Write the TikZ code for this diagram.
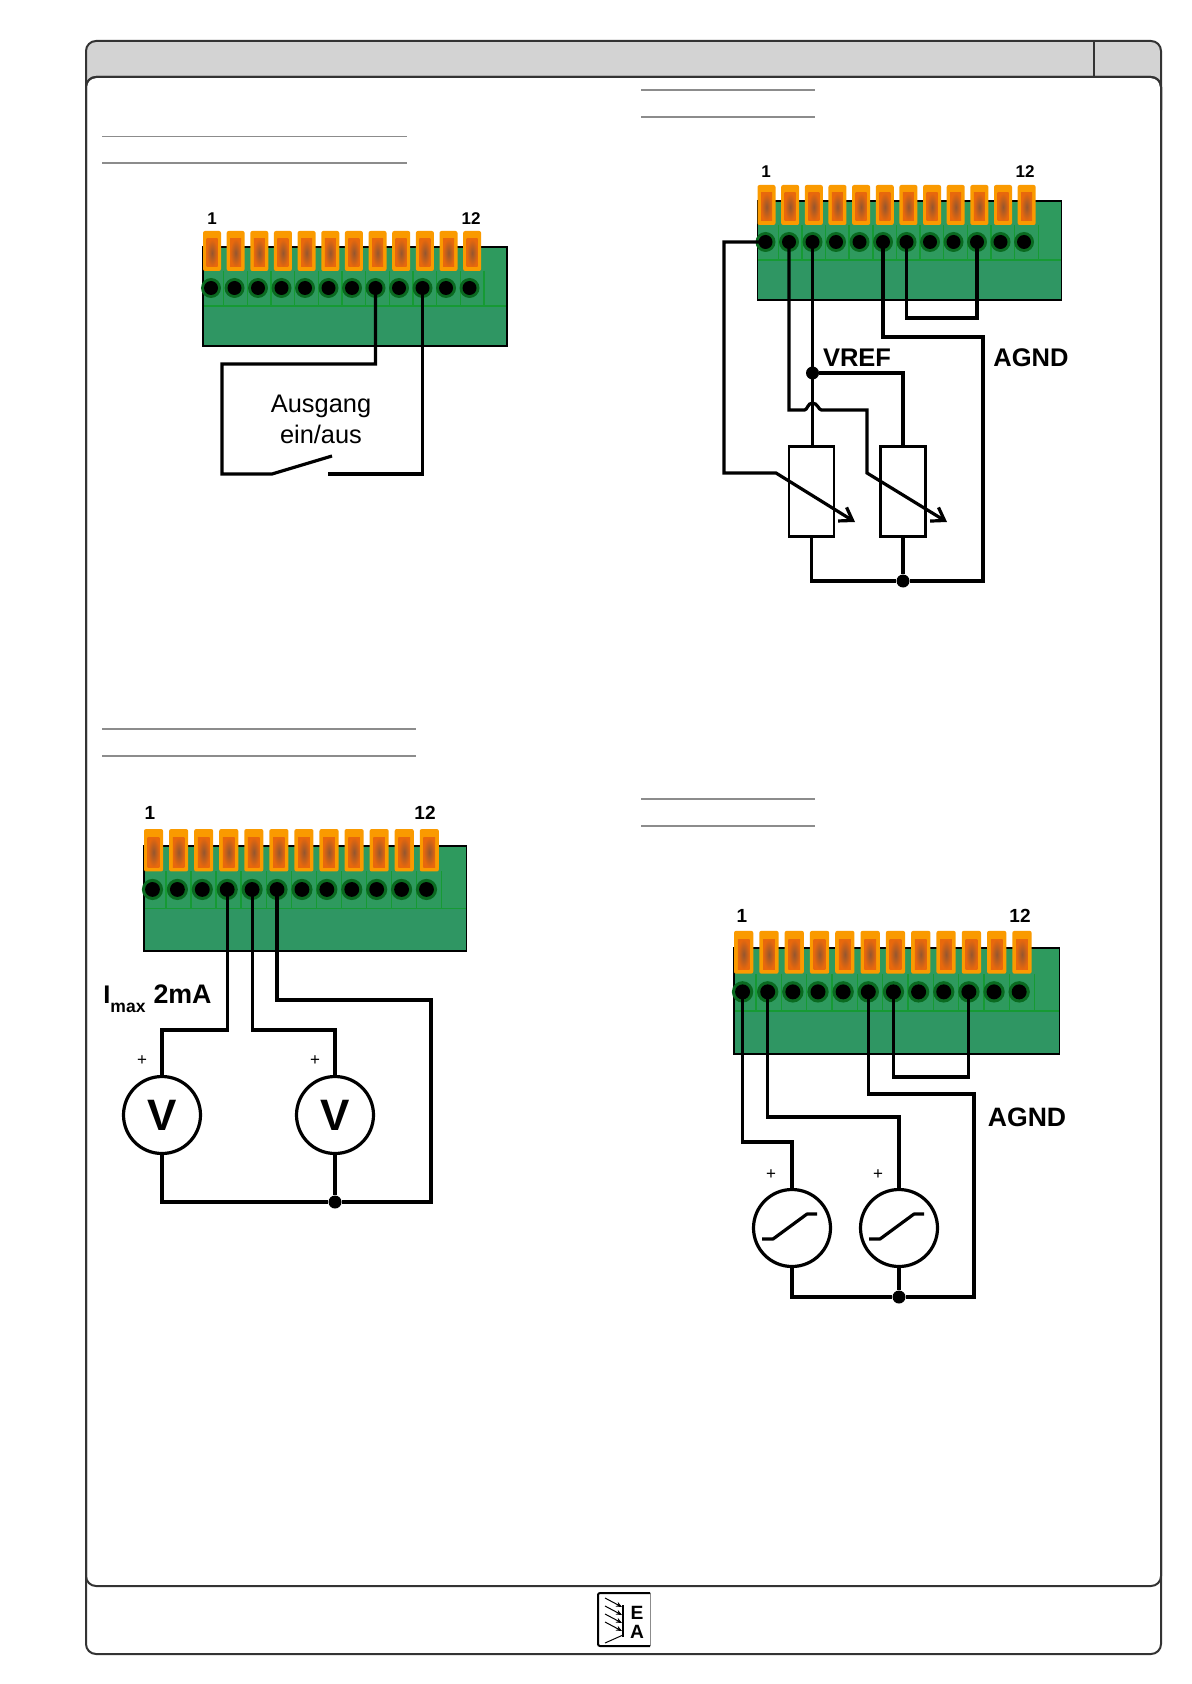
\documentclass[tikz,border=0pt]{standalone}
\usepackage{fontspec}
\setmainfont{Liberation Sans}
\usepackage{xcolor}
\usepackage{tikz}
\usetikzlibrary{positioning,arrows.meta,calc}
\definecolor{palFrame}{HTML}{333333}
\definecolor{palHead}{HTML}{D3D3D3}
\definecolor{palRule}{HTML}{8C8C8C}
\definecolor{palBlock}{HTML}{2F9663}
\definecolor{palBlockTop}{HTML}{2E9A5E}
\definecolor{palBlockLine}{HTML}{169A34}
\definecolor{palHole}{HTML}{0A6A20}
\definecolor{palOrange}{HTML}{FA9A00}
\definecolor{palOrangeDk}{HTML}{E8680C}
\definecolor{palOrangeCt}{HTML}{95562F}
\tikzset{
  framebox/.style={draw=palFrame, line width=1pt, rounded corners=5pt},
  rulenline/.style={draw=palRule, line width=0.6pt},
  hole/.style={circle, fill=palHole, minimum size=10pt, inner sep=0pt,
               path picture={\fill[black] (path picture bounding box.center) circle (3.5pt);}},
  wire/.style={line width=1.6pt, line join=miter, black},
  dotnode/.style={circle, fill=black, minimum size=6.5pt, inner sep=0pt},
  potnode/.style={draw, line width=1.4pt, minimum width=22.5pt, minimum height=45pt, inner sep=0pt},
  meternode/.style={draw, circle, line width=1.6pt, fill=white, minimum size=38.5pt, inner sep=0pt,
                    font=\fontsize{22pt}{22pt}\selectfont\bfseries},
  pinlabel/.style={font=\fontsize{8.5pt}{10pt}\selectfont\bfseries, inner sep=0pt},
  pinlabelbig/.style={font=\fontsize{9.5pt}{11pt}\selectfont\bfseries, inner sep=0pt},
  wirelabel/.style={font=\fontsize{12.75pt}{15pt}\selectfont\bfseries, inner sep=0pt},
  pluslabel/.style={font=\fontsize{8.5pt}{10pt}\selectfont, inner sep=0pt},
}
% name, left, top, scale
\newcommand{\terminalblock}[4]{%
  \begin{scope}[shift={(#2,#3)}, scale=#4, transform shape]
    \fill[palBlock] (0,0) rectangle (304,99);
    \fill[palBlockTop] (0,0) rectangle (304,59);
    \foreach \i in {0,...,11} {
      \pgfmathsetmacro{\xo}{\i*23.65}
      \draw[palBlockLine, line width=0.7pt] (\xo+20.7,24) -- (\xo+20.7,59);
    }
    \draw[palBlockLine, line width=0.8pt] (0,59) -- (304,59);
    \draw[black, line width=0.7pt] (0,0) rectangle (304,99);
    \foreach \i in {0,...,11} {
      \pgfmathsetmacro{\xo}{\i*23.65}
      \fill[palOrange, rounded corners=1pt] (\xo,-16) rectangle (\xo+18,24);
      \shade[inner color=palOrangeCt, outer color=palOrangeDk] (\xo+3.5,-8) rectangle (\xo+14.5,20);
      \pgfmathtruncatemacro{\n}{\i+1}
      \node[hole] (#1\n) at (8+\i*23.5,41) {};
    }
  \end{scope}
}
\begin{document}
\begin{tikzpicture}[x=0.5pt, y=-0.5pt]
\useasboundingbox (0,0) rectangle (1191,1684);
\fill[white] (0,0) rectangle (1191,1684);

%% Page frame
\draw[framebox, fill=palHead] (86,41) rectangle (1161,120);
\draw[framebox, fill=white] (86,77) rectangle (1161,1654);
\draw[framebox] (86,77) rectangle (1161,1586);
\draw[palFrame, line width=1pt] (1094,41) -- (1094,77);

%% Rules
\foreach \xa/\xb/\yr in {102/407/136.5, 102/407/163, 641/815/90, 641/815/117,
                         102/416/729, 102/416/756, 641/815/799, 641/815/826} {
  \draw[rulenline] (\xa,\yr) -- (\xb,\yr);
}

%% Blocks
\terminalblock{a}{203}{247}{1}
\terminalblock{b}{757.5}{201}{1}
\terminalblock{c}{144}{846}{1.06}
\terminalblock{d}{734}{948}{1.07}

\node[pinlabel] (aone) at (212,219) {1};
\node[pinlabel] (atwelve) at (471,219) {12};
\node[pinlabel] (bone) at (766,172) {1};
\node[pinlabel] (btwelve) at (1025,172) {12};
\node[pinlabelbig] (cone) at (150,813) {1};
\node[pinlabelbig] (ctwelve) at (425,813) {12};
\node[pinlabelbig] (done) at (742,916) {1};
\node[pinlabelbig] (dtwelve) at (1020,916) {12};

%% Block a: switch
\coordinate (swleft) at (272,474);
\coordinate (swtip) at (332,456);
\coordinate (swright) at (328,474);
\draw[wire] (a8.center) -- (a8.center |- 0,364) -| (222,474) -- (swleft) -- (swtip);
\draw[wire] (swright) -- (a10.center |- swright) -- (a10.center);
\node[font=\fontsize{12.7pt}{15.5pt}\selectfont, align=center, inner sep=0pt] (swlabel) at (321,419) {Ausgang\\ein/aus};

%% Block b: two potentiometers
\node[potnode] (pota) at (811.5,491.5) {};
\node[potnode] (potb) at (903,491.5) {};
\node[dotnode] (vrefdot) at (812.5,373) {};
\node[dotnode] (gnddot) at (903,581) {};
\draw[wire] (b3.center) -- (b3.center |- pota.north);
\draw[wire] (vrefdot) -| (potb.north);
\draw[wire, -{Straight Barb[length=6pt,width=8pt]}] (b2.center) -- (b2.center |- 0,410) -- (804.5,410)
  .. controls (807.5,410) and (807.5,403) .. (812.5,403)
  .. controls (817.5,403) and (818.5,410) .. (821.5,410) -- (867,410) -- (867,473) -- (947,522);
\draw[wire, -{Straight Barb[length=6pt,width=8pt]}] (b1.center) -- (724,242) -- (724,473) -- (776,473) -- (855,522);
\draw[wire] (pota.south) |- (gnddot);
\draw[wire] (potb.south) -- (gnddot);
\draw[wire] (gnddot) -- (983,581) -- (983,337) -- (b6.center |- 0,337) -- (b6.center);
\draw[wire] (b7.center) -- (b7.center |- 0,318) -| (b10.center);
\node[wirelabel] (vreflabel) at (857,358) {VREF};
\node[wirelabel] (agndb) at (1031,358) {AGND};

%% Block c: two voltmeters
\node[meternode] (vma) at (162,1115) {V};
\node[meternode] (vmb) at (335,1115) {V};
\node[dotnode] (cdot) at (335,1202) {};
\draw[wire] (c4.center) -- (c4.center |- 0,1030) -| (vma.north);
\draw[wire] (c5.center) -- (c5.center |- 0,1030) -| (vmb.north);
\draw[wire] (c6.center) -- (c6.center |- 0,1000) -- (431,1000) |- (cdot);
\draw[wire] (vma.south) |- (cdot);
\draw[wire] (vmb.south) -- (cdot);
\node[pluslabel] (cplusa) at (142,1061) {+};
\node[pluslabel] (cplusb) at (315,1061) {+};
\node[wirelabel, anchor=base west] (imax) at (103,1003) {I\raisebox{-4.5pt}{\fontsize{8.75pt}{10pt}\selectfont max}\hspace{4pt}{\fontsize{13.4pt}{15pt}\selectfont 2mA}};

%% Block d: two sources
\node[meternode] (srca) at (792,1228) {};
\node[meternode] (srcb) at (899,1228) {};
\node[dotnode] (ddot) at (899,1297) {};
\foreach \n in {srca, srcb} {
  \draw[line width=1.6pt, line join=round] ($(\n.center)+(-30,11)$) -- ++(11,0) -- ++(34,-25) -- ++(10,0);
}
\draw[wire] (d1.center) -- (d1.center |- 0,1142) -| (srca.north);
\draw[wire] (d2.center) -- (d2.center |- 0,1117) -| (srcb.north);
\draw[wire] (d6.center) -- (d6.center |- 0,1094) -- (974,1094) |- (ddot);
\draw[wire] (d7.center) -- (d7.center |- 0,1077) -| (d10.center);
\draw[wire] (srca.south) |- (ddot);
\draw[wire] (srcb.south) -- (ddot);
\node[pluslabel] (dplusa) at (771,1175) {+};
\node[pluslabel] (dplusb) at (878,1175) {+};
\node[font=\fontsize{13.3pt}{15pt}\selectfont\bfseries, inner sep=0pt] (agndd) at (1027,1117) {AGND};

%% Logo
\draw[palRule, line width=0.4pt] (650,1593) -- (650,1646);
\draw[black, line width=1pt, rounded corners=1pt] (650,1646) -- (598,1646) -- (598,1593) -- (650,1593);
\draw[black, line width=1pt] (623,1605) -- (623,1637);
\foreach \yl in {1598,1606,1614,1622} {
  \draw[black, line width=0.5pt, -{Stealth[length=3pt,width=2.5pt]}] (605,\yl) -- ++(17,9);
}
\draw[black, line width=0.5pt] (605,1643) -- (623,1635);
\node[font=\fontsize{9.6pt}{10pt}\selectfont\bfseries, inner sep=0pt] (logoe) at (637,1613) {E};
\node[font=\fontsize{9.6pt}{10pt}\selectfont\bfseries, inner sep=0pt] (logoa) at (637,1632) {A};
\end{tikzpicture}
\end{document}
